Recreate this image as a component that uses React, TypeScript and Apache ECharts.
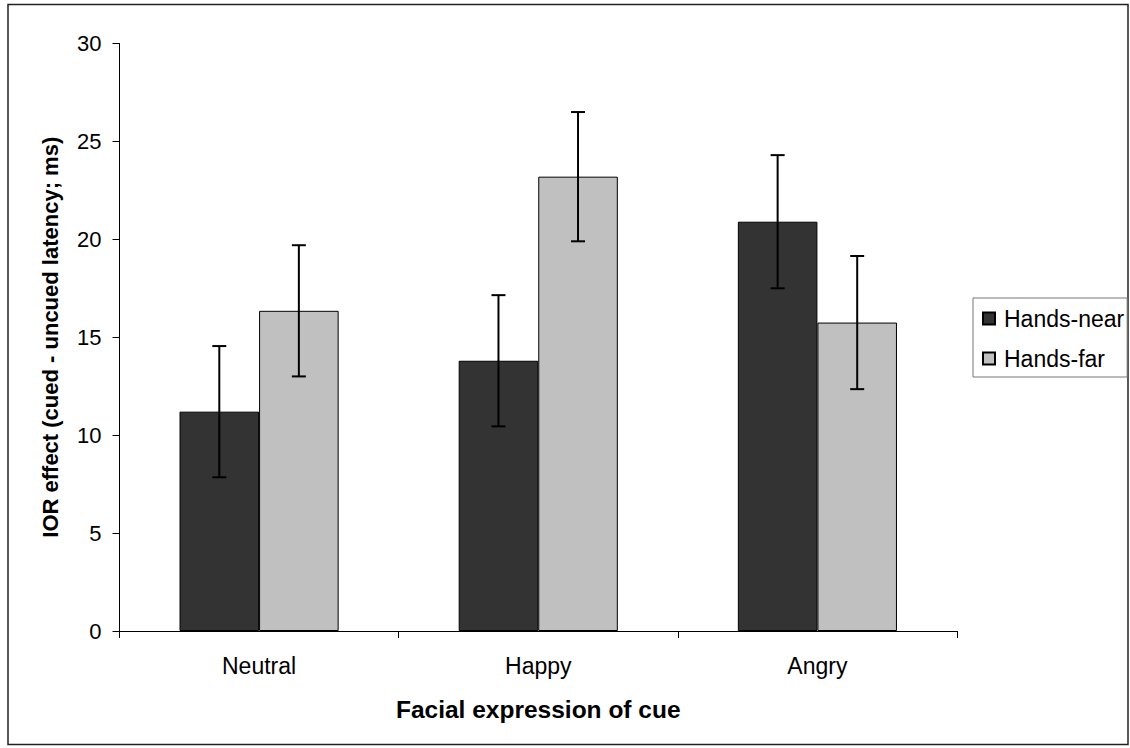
import React, { useEffect, useRef } from "react";
import * as echarts from "echarts";

// Cue expression categories and IOR effect means / standard errors (ms)
const categories = ["Neutral", "Happy", "Angry"];
const nearMeans = [11.2, 13.8, 20.9];
const nearErrors = [3.35, 3.35, 3.4];
const farMeans = [16.35, 23.2, 15.75];
const farErrors = [3.35, 3.3, 3.4];
const seriesNames = ["Hands-near", "Hands-far"];

const BAR_FRACTION = 0.285; // share of each category band taken by one bar

function errorBarRenderer(sign: number) {
  return (params: any, api: any) => {
    const idx = api.value(0);
    const lo = api.value(1);
    const hi = api.value(2);
    const band = api.size([1, 0])[0];
    const barW = band * BAR_FRACTION;
    const cx = api.coord([idx, 0])[0] + (sign * barW) / 2;
    const yLo = api.coord([idx, lo])[1];
    const yHi = api.coord([idx, hi])[1];
    const cap = 7;
    const style = { stroke: "#000", lineWidth: 2 };
    return {
      type: "group",
      children: [
        { type: "line", shape: { x1: cx, y1: yLo, x2: cx, y2: yHi }, style },
        { type: "line", shape: { x1: cx - cap, y1: yHi, x2: cx + cap, y2: yHi }, style },
        { type: "line", shape: { x1: cx - cap, y1: yLo, x2: cx + cap, y2: yLo }, style },
      ],
    };
  };
}

export default function App() {
  const ref = useRef<HTMLDivElement>(null);

  useEffect(() => {
    if (!ref.current) return;
    const chart = echarts.init(ref.current, undefined, { renderer: "svg" });
    const font = "'Liberation Sans', Arial, sans-serif";

    chart.setOption({
      animation: false,
      backgroundColor: "#fff",
      textStyle: { fontFamily: font },
      graphic: [
        {
          type: "rect",
          shape: { x: 8, y: 4.5, width: 1120, height: 740 },
          style: { fill: "none", stroke: "#222", lineWidth: 1.5 },
          silent: true,
        },
      ],
      grid: { left: 119.5, right: 173, top: 43.5, bottom: 117, containLabel: false },
      legend: {
        orient: "vertical",
        left: 973,
        top: 298,
        data: seriesNames,
        icon: "rect",
        itemWidth: 12,
        itemHeight: 12,
        itemGap: 17,
        padding: [9, 3, 7, 9],
        borderColor: "#777",
        borderWidth: 1,
        textStyle: { fontSize: 23, color: "#000", fontFamily: font, padding: [0, 0, 0, 4] },
      },
      xAxis: {
        type: "category",
        data: categories,
        name: "Facial expression of cue",
        nameLocation: "middle",
        nameGap: 66,
        nameTextStyle: { fontSize: 24.5, fontWeight: "bold", color: "#000", fontFamily: font },
        axisLine: { lineStyle: { color: "#000", width: 1 } },
        axisTick: { show: true, length: 7, inside: false, lineStyle: { color: "#000" } },
        axisLabel: { fontSize: 23, color: "#000", margin: 23, fontFamily: font },
        splitLine: { show: false },
      },
      yAxis: {
        type: "value",
        min: 0,
        max: 30,
        interval: 5,
        name: "IOR effect (cued - uncued latency; ms)",
        nameLocation: "middle",
        nameGap: 58,
        nameTextStyle: { fontSize: 22, fontWeight: "bold", color: "#000", fontFamily: font },
        axisLine: { show: true, lineStyle: { color: "#000", width: 1 } },
        axisTick: { show: true, length: 7, lineStyle: { color: "#000" } },
        axisLabel: { fontSize: 22, color: "#000", margin: 18, fontFamily: font },
        splitLine: { show: false },
      },
      series: [
        {
          name: seriesNames[0],
          type: "bar",
          data: nearMeans,
          barWidth: `${BAR_FRACTION * 100}%`,
          barGap: "0%",
          itemStyle: { color: "#333333", borderColor: "#000", borderWidth: 1 },
        },
        {
          name: seriesNames[1],
          type: "bar",
          data: farMeans,
          barWidth: `${BAR_FRACTION * 100}%`,
          barGap: "0%",
          itemStyle: { color: "#c0c0c0", borderColor: "#000", borderWidth: 1 },
        },
        {
          name: "near-error",
          type: "custom",
          renderItem: errorBarRenderer(-1),
          data: nearMeans.map((m, i) => [i, m - nearErrors[i], m + nearErrors[i]]),
          encode: { x: 0, y: [1, 2] },
          z: 10,
        },
        {
          name: "far-error",
          type: "custom",
          renderItem: errorBarRenderer(1),
          data: farMeans.map((m, i) => [i, m - farErrors[i], m + farErrors[i]]),
          encode: { x: 0, y: [1, 2] },
          z: 10,
        },
      ],
    });

    return () => chart.dispose();
  }, []);

  return (
    <div
      ref={ref}
      style={{ position: "absolute", left: 0, top: 0, width: 1130, height: 748 }}
    />
  );
}
